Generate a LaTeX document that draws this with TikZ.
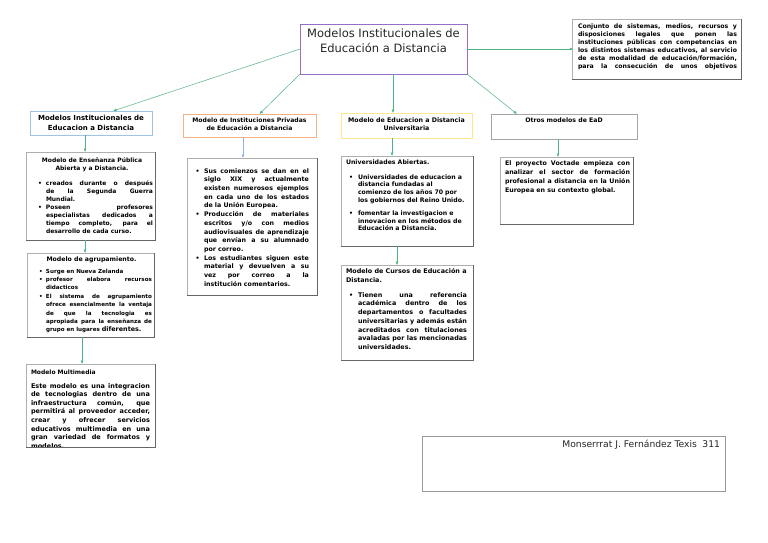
\documentclass[tikz,border=0pt]{standalone}
\usepackage{fontspec}
\setmainfont{DejaVu Sans}
\usetikzlibrary{arrows.meta}
\definecolor{conn}{RGB}{80,180,130}
\definecolor{connb}{RGB}{140,180,220}
\definecolor{purp}{RGB}{150,110,200}
\definecolor{bluebd}{RGB}{157,195,230}
\definecolor{orabd}{RGB}{244,177,131}
\definecolor{yelbd}{RGB}{255,230,140}
\definecolor{graybd}{RGB}{165,165,165}
\definecolor{txtbd}{RGB}{175,175,175}
\newcommand{\fs}[2]{\fontsize{#1}{#2}\selectfont\tolerance=10000\hbadness=10000\hyphenpenalty=10000\exhyphenpenalty=10000}
\newcommand{\bitem}[3]{\par\hangindent=#2\hangafter=1\noindent\makebox[#2][l]{\hspace{#1}\textbullet}#3\par}
\tikzset{
  box/.style={draw, rectangle, anchor=north west, inner sep=0pt, outer sep=0pt},
  tbox/.style={box, draw=txtbd, line width=.6pt},
  txt/.style={anchor=north west, inner sep=0pt, outer sep=0pt, text=black},
  conn/.style={draw=conn, line width=.5pt, -{Latex[length=3.5pt,width=3pt]}},
}
\begin{document}
\begin{tikzpicture}[x=1pt,y=-1pt]
\useasboundingbox[fill=white] (0,0) rectangle (768,543);

% title
\node[box, draw=purp, line width=.9pt, minimum width=167pt, minimum height=50pt] (title) at (300,24) {};
\node[txt, anchor=center, align=center, font=\fs{11.5}{15}, text=black!85] (titleT) at (383.5,40.5) {Modelos Institucionales de\\Educación a Distancia};

% top right definition
\node[tbox, minimum width=169pt, minimum height=60pt] (tr) at (572,19) {};
\node[txt, text width=159pt, align=justify, font=\fs{6.2}{8}\bfseries] (trT) at (578,23.5) {Conjunto de sistemas, medios, recursos y\linebreak disposiciones legales que ponen las\linebreak instituciones públicas con competencias en\linebreak los distintos sistemas educativos, al servicio\linebreak de esta modalidad de educación/formación,\linebreak para la consecución de unos objetivos\parfillskip=0pt\par};

% level 1
\node[box, draw=bluebd, line width=.9pt, minimum width=122pt, minimum height=24pt] (boxA) at (30,111) {};
\node[txt, anchor=center, align=center, font=\fs{7}{10.5}\bfseries] (boxAT) at (91,123) {Modelos Institucionales de\\Educacion a Distancia};

\node[box, draw=orabd, line width=.9pt, minimum width=133pt, minimum height=23pt] (boxB) at (183,114) {};
\node[txt, anchor=center, align=center, font=\fs{6.1}{8}\bfseries] (boxBT) at (249.5,124.5) {Modelo de Instituciones Privadas\\de Educación a Distancia};

\node[box, draw=yelbd, line width=.9pt, minimum width=131pt, minimum height=25pt] (boxC) at (341,113) {};
\node[txt, anchor=center, align=center, font=\fs{6.3}{8}\bfseries] (boxCT) at (406.5,124.5) {Modelo de Educacion a Distancia\\Universitaria};

\node[box, draw=graybd, line width=.9pt, minimum width=146pt, minimum height=25pt] (boxD) at (491,114) {};
\node[txt, anchor=center, font=\fs{6.2}{8}\bfseries] (boxDT) at (564,120.5) {Otros modelos de EaD};

% column A
\node[tbox, minimum width=129pt, minimum height=88pt] (ac) at (26,152) {};
\node[txt, text width=122pt, align=justify, font=\fs{6}{8}\bfseries] (acT) at (31,157.5) {{\centering Modelo de Enseñanza Pública\par Abierta y a Distancia.\par}\vspace{7pt}\bitem{7pt}{15pt}{creados durante o después\linebreak de la Segunda Guerra\linebreak Mundial.}\bitem{7pt}{15pt}{Poseen profesores\linebreak especialistas dedicados a\linebreak tiempo completo, para el\linebreak desarrollo de cada curso.}};

\node[tbox, minimum width=127pt, minimum height=84pt] (ag) at (27,253) {};
\node[txt, text width=121pt, align=justify, font=\fs{5.6}{8.4}\bfseries] (agT) at (31,256.5) {{\centering\fontsize{6.2}{8}\selectfont Modelo de agrupamiento.\par}\vspace{3.5pt}\bitem{8pt}{15pt}{Surge en Nueva Zelanda}\bitem{8pt}{15pt}{profesor elabora recursos\linebreak didacticos}\bitem{8pt}{15pt}{El sistema de agrupamiento\linebreak ofrece esencialmente la ventaja\linebreak de que la tecnologia es\linebreak apropiada para la enseñanza de\linebreak grupo en lugares {\fontsize{6.4}{8.4}\selectfont diferentes.}}};

\node[tbox, minimum width=129pt, minimum height=83pt] (mm) at (26,364) {};
\begin{scope}
\clip (26,364) rectangle (155,446.5);
\node[txt, text width=119pt, align=justify, font=\fs{6.5}{8.6}\bfseries] (mmT) at (31,369.5) {{\fontsize{6}{8.6}\selectfont Modelo Multimedia}\par\vspace{5.4pt}Este modelo es una integracion\linebreak de tecnologias dentro de una\linebreak infraestructura común, que\linebreak permitirá al proveedor acceder,\linebreak crear y ofrecer servicios\linebreak educativos multimedia en una\linebreak gran variedad de formatos y\linebreak modelos.};
\end{scope}

% column B
\node[tbox, minimum width=130pt, minimum height=137pt] (bc) at (187,158) {};
\node[txt, text width=117pt, align=justify, font=\fs{6.3}{8.7}\bfseries] (bcT) at (192,164.4) {\bitem{3.5pt}{12pt}{Sus comienzos se dan en el\linebreak siglo XIX y actualmente\linebreak existen numerosos ejemplos\linebreak en cada uno de los estados\linebreak de la Unión Europea.}\bitem{3.5pt}{12pt}{Producción de materiales\linebreak escritos y/o con medios\linebreak audiovisuales de aprendizaje\linebreak que envían a su alumnado\linebreak por correo.}\bitem{3.5pt}{12pt}{Los estudiantes siguen este\linebreak material y devuelven a su\linebreak vez por correo a la\linebreak institución comentarios.}};

% column C
\node[tbox, minimum width=132pt, minimum height=90pt] (cc) at (341,156) {};
\node[txt, text width=124pt, align=left, font=\fs{6.2}{7.7}\bfseries] (ccT) at (346,159.5) {Universidades Abiertas.\par\vspace{7.3pt}\bitem{3pt}{12pt}{Universidades de educacion a\linebreak distancia fundadas al\linebreak comienzo de los años 70 por\linebreak los gobiernos del Reino Unido.}\vspace{5.3pt}\bitem{3pt}{12pt}{fomentar la investigacion e\linebreak innovacion en los métodos de\linebreak Educación a Distancia.}};

\node[tbox, minimum width=132pt, minimum height=95pt] (cg) at (341,265) {};
\node[txt, text width=121pt, align=justify, font=\fs{6.4}{8.7}\bfseries] (cgT) at (346,268.4) {{\raggedright Modelo de Cursos de Educación a\linebreak Distancia.\par}\vspace{6.3pt}\bitem{3pt}{12pt}{Tienen una referencia\linebreak académica dentro de los\linebreak departamentos o facultades\linebreak universitarias y además están\linebreak acreditados con titulaciones\linebreak avaladas por las mencionadas\linebreak universidades.}};

% column D
\node[tbox, minimum width=133pt, minimum height=67pt] (dc) at (500,157) {};
\node[txt, text width=125pt, align=justify, font=\fs{6.3}{9}\bfseries] (dcT) at (505,160.4) {El proyecto Voctade empieza con\linebreak analizar el sector de formación\linebreak profesional a distancia en la Unión\linebreak Europea en su contexto global.};

% name box
\node[box, draw=black!40, line width=.5pt, minimum width=303pt, minimum height=55pt] (nb) at (422,436) {};
\node[txt, anchor=north east, font=\fs{9.2}{11}, text=black!85] (nbT) at (720,440.5) {Monserrrat J. Fernández Texis\hspace{0.6em}311};

% shadows on text boxes
\foreach \n in {tr,ac,ag,mm,bc,cc,cg,dc}{
  \draw[black!60, line width=.8pt] (\n.south west) -- (\n.south east) -- (\n.north east);
}

% connectors
\draw[conn] (title.west) -- ([xshift=22pt]boxA.north);
\draw[conn] (title.south west) -- ([xshift=10pt]boxB.north);
\draw[conn] ([xshift=9.5pt]title.south) -- ([xshift=-13.5pt]boxC.north);
\draw[conn] (title.south east) -- ([xshift=-47pt]boxD.north);
\draw[draw=conn, line width=.5pt, -{Circle[length=2.5pt]}] (title.east) -- (tr.west);

\draw[conn] ([xshift=-6pt]boxA.south) -- ([xshift=-5.5pt]ac.north);
\draw[conn] ([xshift=-5.5pt]ac.south) -- ([xshift=-5.5pt]ag.north);
\draw[conn] ([xshift=-8.5pt]ag.south) -- ([xshift=-8.5pt]mm.north);
\draw[conn, draw=connb] ([xshift=-6.5pt]boxB.south) -- ([xshift=-9pt]bc.north);
\draw[conn] ([xshift=-14.5pt]boxC.south) -- ([xshift=-15pt]cc.north);
\draw[conn] ([xshift=-10pt]cc.south) -- ([xshift=-10pt]cg.north);
\draw[conn] ([xshift=-6pt]boxD.south) -- ([xshift=-8.5pt]dc.north);
\end{tikzpicture}
\end{document}
